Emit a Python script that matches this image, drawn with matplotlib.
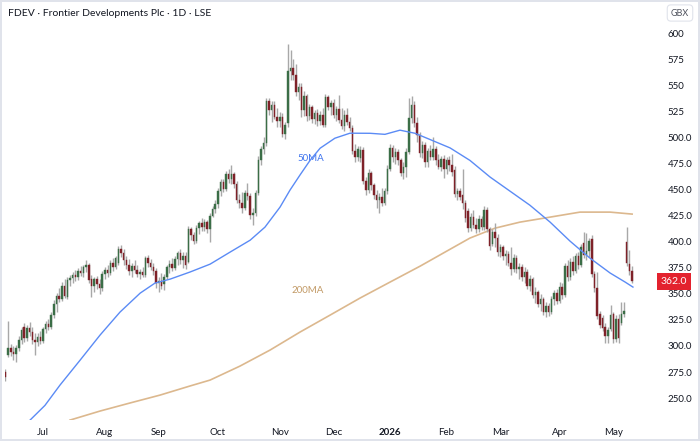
"""
FDEV daily candles with 50/200 day moving averages, TradingView look.
"""

import matplotlib
matplotlib.use('Agg')
import matplotlib.pyplot as plt
import matplotlib.transforms as mtransforms
import numpy as np
import pandas as pd

# trading days, LSE holidays removed
holidays = ['2025-08-25', '2025-12-25', '2025-12-26', '2026-01-01',
            '2026-04-03', '2026-04-06', '2026-05-04']
dates = pd.bdate_range('2025-06-11', '2026-05-13', freq='C', holidays=holidays)

opens = [275, 291, 298, 294, 292, 298, 306, 318, 308, 317, 313, 306, 304, 309,
         305, 316, 321, 318, 330, 340, 348, 345, 358, 347, 363, 365, 368, 366, 372, 370, 376, 378, 364, 358, 364, 359, 356,
         369, 373, 370, 380, 376, 380, 393, 389, 382, 378, 372, 377, 373, 369, 371, 368, 384, 380, 376, 372,
         360, 362, 359, 366, 376, 379, 375, 383, 389, 382, 386, 381, 412, 406, 401, 413, 418, 414, 419, 412, 425, 431,
         436, 449, 457, 451, 465, 460, 465, 455, 440, 437, 432, 447, 444, 426, 428, 447, 478, 489, 495, 535, 526, 531, 520,
         516, 520, 503, 514, 564, 567, 560, 544, 548, 526, 540, 521, 529, 518, 523, 516, 522, 512, 539, 529,
         533, 522, 527, 517, 511, 522, 515, 509, 487, 481, 480, 488, 458, 450, 466, 454, 445, 440, 443, 437, 449,
         470, 490, 481, 486, 478, 466, 472, 486, 519, 531, 514, 502, 485, 493, 476, 487, 481, 489, 478, 472, 479,
         470, 478, 474, 469, 446, 449, 445, 437, 429, 413, 424, 416, 412, 422, 414, 430, 412, 398, 409, 404,
         390, 395, 386, 388, 380, 374, 384, 374, 376, 366, 371, 358, 364, 349, 352, 340, 345, 333, 338, 333, 345, 351,
         343, 357, 349, 377, 366, 381, 372, 386, 378, 399, 387, 391, 403, 369, 356, 331, 327, 318, 310, 316,
         331, 307, 326, 322, 331, 400, 379, 372]
highs = [278, 324, 302, 300, 301, 310, 318, 322, 320, 323, 318, 312, 312, 314,
         318, 324, 326, 333, 344, 351, 356, 361, 364, 366, 368, 371, 373, 375, 377, 378, 382, 380, 368, 366, 367, 364, 372,
         376, 378, 382, 384, 386, 396, 397, 393, 386, 383, 380, 382, 378, 374, 376, 386, 387, 383, 380, 375,
         366, 370, 369, 378, 382, 384, 386, 391, 393, 390, 390, 415, 414, 409, 416, 420, 423, 422, 421, 428, 434, 440,
         452, 460, 460, 468, 470, 474, 467, 458, 446, 448, 450, 456, 447, 432, 450, 482, 492, 500, 538, 538, 535, 535, 528,
         524, 523, 515, 590, 584, 575, 570, 552, 552, 545, 542, 532, 531, 526, 527, 525, 528, 542, 541, 536,
         537, 530, 541, 528, 526, 528, 520, 512, 494, 492, 492, 491, 462, 470, 468, 456, 450, 447, 452, 452, 474,
         494, 493, 490, 489, 480, 476, 490, 538, 540, 535, 520, 505, 497, 496, 490, 493, 500, 492, 484, 482, 483,
         481, 482, 484, 473, 452, 452, 470, 440, 432, 428, 430, 423, 426, 425, 434, 433, 414, 412, 418, 407,
         398, 397, 392, 391, 395, 388, 387, 380, 379, 376, 374, 368, 366, 357, 354, 350, 347, 342, 341, 348, 354, 355,
         361, 360, 380, 382, 384, 386, 389, 390, 398, 409, 408, 404, 406, 372, 371, 334, 330, 322, 318, 339,
         333, 330, 331, 342, 342, 414, 392, 377]
lows = [266, 289, 290, 287, 285, 295, 302, 304, 305, 310, 302, 291, 300, 302,
        303, 312, 315, 316, 327, 333, 342, 343, 346, 345, 358, 360, 362, 363, 367, 366, 371, 360, 347, 352, 355, 350, 353,
        364, 366, 368, 372, 374, 378, 385, 378, 374, 368, 366, 370, 366, 364, 366, 366, 376, 373, 368, 356,
        352, 355, 354, 364, 370, 372, 373, 378, 379, 375, 374, 380, 402, 398, 399, 407, 410, 410, 408, 400, 424, 428,
        432, 444, 448, 449, 456, 455, 452, 437, 432, 428, 430, 440, 422, 416, 425, 445, 474, 484, 492, 522, 515, 518, 510,
        510, 500, 499, 510, 555, 555, 540, 536, 520, 521, 516, 517, 514, 513, 511, 512, 510, 510, 526, 522,
        519, 516, 514, 508, 506, 512, 506, 484, 476, 477, 476, 455, 445, 447, 450, 441, 432, 428, 434, 435, 446,
        468, 476, 475, 474, 463, 460, 462, 484, 514, 510, 496, 481, 480, 472, 472, 478, 478, 474, 470, 468, 461,
        465, 468, 463, 443, 440, 440, 431, 419, 409, 410, 413, 408, 409, 411, 411, 409, 392, 396, 395, 386,
        385, 382, 378, 377, 368, 371, 370, 364, 362, 360, 355, 353, 346, 341, 337, 334, 330, 328, 329, 331, 339, 340,
        341, 345, 347, 362, 363, 368, 370, 374, 376, 384, 382, 385, 366, 352, 326, 317, 314, 303, 303, 314,
        303, 304, 303, 320, 328, 377, 368, 360]
closes = [270, 298, 294, 292, 298, 306, 315, 308, 317, 313, 306, 304, 309, 305,
          316, 321, 318, 330, 340, 348, 345, 358, 348, 363, 365, 368, 366, 372, 370, 376, 378, 363, 358, 364, 359, 356, 369,
          373, 370, 380, 376, 384, 393, 389, 382, 378, 372, 377, 373, 369, 371, 368, 384, 380, 376, 372, 360,
          362, 358, 366, 376, 379, 375, 383, 389, 382, 386, 378, 412, 406, 401, 413, 418, 414, 419, 412, 425, 431, 436,
          449, 457, 451, 465, 460, 465, 455, 440, 437, 432, 447, 444, 426, 428, 447, 478, 489, 495, 535, 526, 531, 520, 516,
          520, 503, 512, 564, 567, 560, 544, 548, 526, 540, 521, 529, 518, 523, 516, 522, 512, 539, 529, 533,
          522, 527, 517, 511, 522, 515, 509, 487, 481, 489, 488, 458, 450, 466, 454, 445, 440, 443, 437, 449, 470,
          490, 481, 486, 478, 466, 472, 486, 519, 531, 514, 502, 485, 493, 476, 487, 481, 489, 478, 472, 479, 470,
          478, 474, 467, 446, 449, 443, 437, 423, 413, 424, 416, 412, 422, 414, 430, 412, 396, 409, 404, 390,
          395, 386, 388, 380, 374, 384, 374, 376, 366, 371, 358, 364, 349, 352, 340, 345, 333, 338, 333, 345, 351, 343,
          357, 349, 377, 366, 381, 372, 386, 378, 395, 387, 391, 401, 369, 356, 329, 320, 317, 310, 315, 330,
          307, 326, 308, 331, 334, 380, 372, 362]

# moving averages (bar index, value)
ma50_idx = [9.2, 14.7, 20.3, 27.8, 35.2, 42.6, 50.1, 55.6, 61.2, 68.6, 76.1, 83.5, 91, 96.5,
            102.1, 105.8, 109.5, 113.3, 117, 122.5, 128.1, 135.6, 141.1, 146.7, 152.3,
            157.9, 165.3, 172.7, 180.2, 187.6, 195, 202.5, 209.9, 217.3, 224.8, 230.4, 233.3]
ma50_val = [229, 243, 262.5, 286.5, 310.5, 332.5, 350.7, 360.3, 364.1, 370.9, 378.5, 390,
            401.5, 414, 433.2, 449.5, 463.9, 478.2, 489.7, 499.3, 504.1, 504, 503, 507, 504,
            498, 490, 478, 462, 448.5, 435, 418.8, 400.6, 384.3, 370, 361.3, 356.5]
ma200_idx = [24, 35.2, 46.3, 57.5, 68.6, 76.1, 87.2, 98.4, 109.5, 120.7, 131.8, 143,
             154.2, 163.4, 172.7, 182, 191.3, 202.5, 213.6, 224.8, 233]
ma200_val = [228.9, 237.6, 245.3, 252.9, 261.6, 267.3, 280.7, 296.1, 313.3, 329.6, 345.9,
             361.3, 376.6, 390, 403.5, 413, 418.8, 423.6, 428.4, 428.4, 426.5]

month_labels = ['Jul', 'Aug', 'Sep', 'Oct', 'Nov', 'Dec', '2026', 'Feb', 'Mar', 'Apr', 'May']
ytick_vals = [250, 275, 300, 325, 350, 375, 400, 425, 450, 475, 500, 525, 550, 575, 600]
ytick_text = ['250.0', '275.0', '300.0', '325.0', '350.0', '375.0', '400.0', '425.0',
              '450.0', '475.0', '500.0', '525', '550', '575', '600']
last_price = 362.0

plt.rcParams['font.family'] = ['Lato', 'DejaVu Sans']

fig = plt.figure(figsize=(7, 4.41), dpi=100)
fig.patch.set_edgecolor('#e0e3eb')
fig.patch.set_linewidth(1.5)
ax = fig.add_axes([5 / 700, 1 - 420 / 441, 650 / 700, 392 / 441])

o = np.array(opens)
h = np.array(highs)
l = np.array(lows)
c = np.array(closes)
x = np.arange(len(dates))
up = c >= o

ax.vlines(x, l, h, color='#a8a8a8', linewidth=1.0, zorder=2)
ax.bar(x[up], c[up] - o[up], bottom=o[up], width=0.55, color='#3b6e47',
       edgecolor='#3b6e47', linewidth=0.3, zorder=3)
ax.bar(x[~up], o[~up] - c[~up], bottom=c[~up], width=0.55, color='#7f2229',
       edgecolor='#7f2229', linewidth=0.3, zorder=3)

ax.plot(ma50_idx, ma50_val, color='#5b8bf5', linewidth=1.0, zorder=4)
ax.plot(ma200_idx, ma200_val, color='#dcb88e', linewidth=1.2, zorder=1)
ax.text(108.4, 477, '50MA', color='#3f74ee', fontsize=7)
ax.text(106.2, 351, '200MA', color='#c29a66', fontsize=7)

# month ticks at the first trading day
s = pd.Series(x, index=dates)
firsts = s.groupby([dates.year, dates.month]).first().values[1:]
ax.set_xticks(firsts)
ax.set_xticklabels(month_labels, fontsize=7, color='#131722')
for lbl in ax.get_xticklabels():
    if lbl.get_text() == '2026':
        lbl.set_fontweight('bold')
ax.tick_params(axis='x', length=0, pad=6)

ax.yaxis.tick_right()
ax.set_yticks(ytick_vals)
ax.set_yticklabels(ytick_text, fontsize=7, color='#131722')
ax.tick_params(axis='y', length=0, pad=9)

ax.set_xlim(-0.15, 241.5)
ax.set_ylim(229, 605)
for sp in ax.spines.values():
    sp.set_visible(False)

trans = mtransforms.blended_transform_factory(ax.transAxes, ax.transData)
ax.text(1.009, last_price, '362.0', transform=trans, fontsize=7.5, color='white',
        va='center', ha='left',
        bbox=dict(boxstyle='square,pad=0.4', facecolor='#e3222e', edgecolor='none'))

fig.text(8 / 700, 1 - 14 / 441, 'FDEV \u00b7 Frontier Developments Plc \u00b7 1D \u00b7 LSE',
         fontsize=7.5, color='#131722', va='center', ha='left')
fig.text(680 / 700, 1 - 13 / 441, 'GBX', fontsize=6.5, color='#50535e', va='center', ha='center',
         bbox=dict(boxstyle='round,pad=0.4', facecolor='white', edgecolor='#e0e3eb', linewidth=0.8))

plt.savefig('out.png', dpi=100)
plt.close()
